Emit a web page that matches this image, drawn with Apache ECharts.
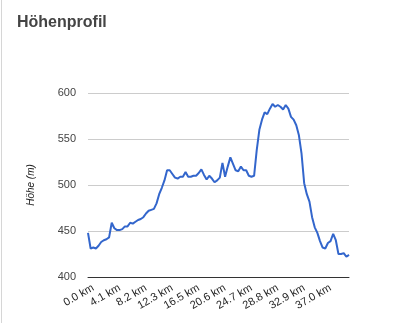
<!DOCTYPE html>
<html>
<head>
<meta charset="utf-8">
<script src="https://cdn.jsdelivr.net/npm/echarts@6/dist/echarts.min.js"></script>
<style>
html,body{margin:0;padding:0;background:#fff;}
#chart{width:419px;height:323px;position:relative;}
#edge{position:absolute;left:1px;top:0;width:1px;height:323px;background:#d6d6d6;}
</style>
</head>
<body>
<div id="chart"></div>
<div id="edge"></div>
<script>
const titleText = 'Höhenprofil';
const yAxisName = 'Höhe (m)';
const distancesKm = [
  0.0,0.4,0.8,1.2,1.6,2.1,2.5,2.9,3.3,3.7,
  4.1,4.5,4.9,5.3,5.8,6.2,6.6,7.0,7.4,7.8,
  8.2,8.6,9.1,9.5,9.9,10.3,10.7,11.1,11.5,11.9,
  12.3,12.8,13.2,13.6,14.0,14.4,14.8,15.2,15.6,16.0,
  16.5,16.9,17.3,17.7,18.1,18.5,18.9,19.3,19.7,20.2,
  20.6,21.0,21.4,21.8,22.2,22.6,23.0,23.4,23.9,24.3,
  24.7,25.1,25.5,25.9,26.3,26.7,27.2,27.6,28.0,28.4,
  28.8,29.2,29.6,30.0,30.4,30.9,31.3,31.7,32.1,32.5,
  32.9,33.3,33.7,34.1,34.6,35.0,35.4,35.8,36.2,36.6,
  37.0,37.4,37.8,38.3,38.7,39.1,39.5,39.9,40.3,40.7
];
const elevationM = [
  448,431,432,431,434,438,440,441,443,459,
  453,451,451,452,455,455,459,458,460,462,
  463,465,469,472,473,474,480,490,497,505,
  516,516,512,508,507,509,509,514,509,509,
  510,510,513,517,511,506,510,507,503,505,
  508,524,509,520,530,523,516,515,520,516,
  516,510,509,510,538,560,571,579,577,583,
  588,585,587,585,582,587,583,574,571,565,
  554,534,502,490,482,465,454,448,439,432,
  431,437,439,447,440,425,425,426,422,424
];
const yTicks = { min: 400, max: 600, interval: 50 };

const chart = echarts.init(document.getElementById('chart'), null, { renderer: 'canvas' });
chart.setOption({
  animation: false,
  backgroundColor: '#ffffff',
  title: {
    text: titleText,
    left: 17,
    top: 15,
    padding: 0,
    textStyle: { fontFamily: 'Liberation Sans, Arial, sans-serif', fontSize: 16, fontWeight: 'bold', color: '#444444' }
  },
  grid: { left: 88, right: 70, top: 93, bottom: 46, containLabel: false },
  xAxis: {
    type: 'category',
    data: distancesKm.map(d => d.toFixed(1) + ' km'),
    boundaryGap: false,
    axisLine: { show: true, lineStyle: { color: '#333333', width: 1 } },
    axisTick: { show: false },
    axisLabel: {
      interval: 9,
      rotate: 30,
      margin: 13,
      fontFamily: 'Liberation Sans, Arial, sans-serif',
      fontSize: 11,
      color: '#222222',
      padding: [0, -6, 0, 0]
    },
    splitLine: { show: false }
  },
  yAxis: {
    type: 'value',
    min: yTicks.min,
    max: yTicks.max,
    interval: yTicks.interval,
    name: yAxisName,
    nameLocation: 'middle',
    nameGap: 52,
    nameRotate: 90,
    nameTextStyle: { fontFamily: 'Liberation Sans, Arial, sans-serif', fontSize: 10, fontStyle: 'italic', color: '#222222' },
    axisLine: { show: false },
    axisTick: { show: false },
    axisLabel: { margin: 12, fontFamily: 'Liberation Sans, Arial, sans-serif', fontSize: 11, color: '#444444' },
    splitLine: { lineStyle: { color: '#cccccc', width: 1 } }
  },
  series: [{
    type: 'line',
    data: elevationM,
    showSymbol: false,
    smooth: false,
    lineStyle: { color: '#3366cc', width: 2 },
    itemStyle: { color: '#3366cc' }
  }]
});
</script>
</body>
</html>
